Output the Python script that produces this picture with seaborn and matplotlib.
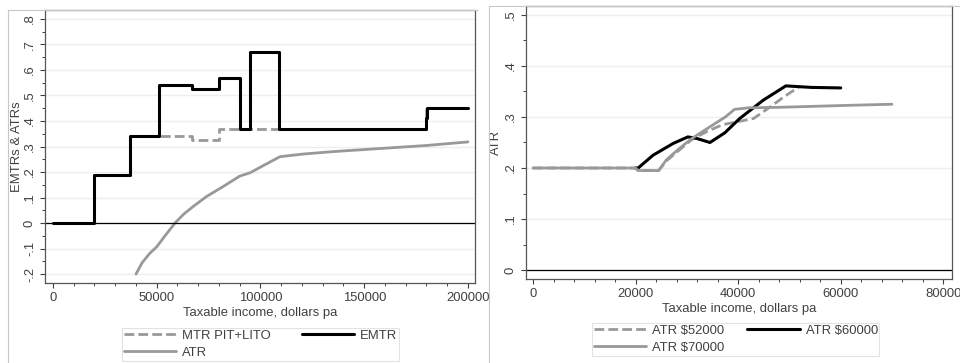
import matplotlib
matplotlib.use("Agg")
import matplotlib.pyplot as plt
import seaborn as sns
from matplotlib.lines import Line2D
from matplotlib.ticker import MultipleLocator

# Left panel: marginal rates (step series) and average rate
mtr_x = [0, 20000, 37000, 67000, 80000, 180000, 200000]
mtr_y = [0, 0.19, 0.34, 0.325, 0.37, 0.45, 0.45]

emtr_x = [0, 20000, 37000, 51000, 67000, 80000, 90000, 95000, 109000, 180000, 180500, 200000]
emtr_y = [0, 0.19, 0.34, 0.54, 0.525, 0.57, 0.37, 0.67, 0.37, 0.41, 0.45, 0.45]

atr_x = [40000, 43000, 46500, 50000, 54000, 58800, 63000, 67600, 74000, 82000,
         90000, 95000, 102000, 109400, 120000, 135000, 150000, 165000, 180000, 200000]
atr_y = [-0.2, -0.155, -0.12, -0.093, -0.05, 0.0, 0.035, 0.065, 0.104, 0.143,
         0.184, 0.197, 0.228, 0.26, 0.27, 0.28, 0.288, 0.296, 0.304, 0.318]

# Right panel: ATR paths for three incomes
atr52_x = [0, 20000, 20500, 24500, 26000, 28500, 31000, 34000, 37000, 40000, 43000, 46000, 49000, 52000]
atr52_y = [0.2, 0.2, 0.195, 0.195, 0.214, 0.235, 0.256, 0.272, 0.285, 0.291, 0.297, 0.318, 0.34, 0.36]

atr60_x = [20000, 20500, 23400, 27300, 30200, 31900, 34500, 37400, 40300, 44900, 49300, 54300, 60000]
atr60_y = [0.2, 0.2, 0.225, 0.248, 0.261, 0.258, 0.25, 0.269, 0.297, 0.333, 0.361, 0.358, 0.357]

atr70_x = [0, 20000, 20500, 24500, 26000, 28500, 31000, 35000, 37500, 39300, 42000, 48000, 55000, 62000, 70000]
atr70_y = [0.2, 0.2, 0.195, 0.195, 0.216, 0.238, 0.258, 0.284, 0.3, 0.315, 0.318, 0.319, 0.321, 0.323, 0.325]

# ticks / labels
left_xticks = [0, 50000, 100000, 150000, 200000]
left_yticks = [-0.2, -0.1, 0, 0.1, 0.2, 0.3, 0.4, 0.5, 0.6, 0.7, 0.8]
left_ylabels = ['-.2', '-.1', '0', '.1', '.2', '.3', '.4', '.5', '.6', '.7', '.8']
right_xticks = [0, 20000, 40000, 60000, 80000]
right_yticks = [0, 0.1, 0.2, 0.3, 0.4, 0.5]
right_ylabels = ['0', '.1', '.2', '.3', '.4', '.5']

sns.set_style('ticks')
plt.rcParams['font.family'] = ['Liberation Sans', 'DejaVu Sans']
plt.rcParams['font.size'] = 9.4

GRAY = '#999999'
TXT = '#404040'
DASH = (0, (3.5, 1.5))

W, H = 960, 363
fig = plt.figure(figsize=(9.6, 3.63), dpi=100)


def box(l, t, r, b):
    return [l / W, (H - b) / H, (r - l) / W, (b - t) / H]


ax1 = fig.add_axes(box(45, 10, 475, 283))
ax2 = fig.add_axes(box(526, 6, 952, 279))

# left panel
sns.lineplot(x=mtr_x, y=mtr_y, ax=ax1, color=GRAY, lw=2, linestyle=DASH,
             drawstyle='steps-post', estimator=None, sort=False)
sns.lineplot(x=emtr_x, y=emtr_y, ax=ax1, color='black', lw=2.2,
             drawstyle='steps-post', estimator=None, sort=False)
sns.lineplot(x=atr_x, y=atr_y, ax=ax1, color=GRAY, lw=2, estimator=None, sort=False)
ax1.set_xlim(-3855, 203400)
ax1.set_ylim(-0.235, 0.835)
ax1.set_xticks(left_xticks, labels=[str(v) for v in left_xticks])
ax1.set_yticks(left_yticks, labels=left_ylabels)
ax1.xaxis.set_minor_locator(MultipleLocator(10000))
ax1.yaxis.set_minor_locator(MultipleLocator(0.05))
ax1.set_ylabel('EMTRs & ATRs', color=TXT)
ax1.yaxis.set_label_coords(-0.051, 0.5)

# right panel
sns.lineplot(x=atr52_x, y=atr52_y, ax=ax2, color=GRAY, lw=2, linestyle=DASH,
             estimator=None, sort=False)
sns.lineplot(x=atr60_x, y=atr60_y, ax=ax2, color='black', lw=2.2, estimator=None, sort=False)
sns.lineplot(x=atr70_x, y=atr70_y, ax=ax2, color=GRAY, lw=2, estimator=None, sort=False)
ax2.set_xlim(-1366, 81700)
ax2.set_ylim(-0.0176, 0.5176)
ax2.set_xticks(right_xticks, labels=[str(v) for v in right_xticks])
ax2.set_yticks(right_yticks, labels=right_ylabels)
ax2.xaxis.set_minor_locator(MultipleLocator(4000))
ax2.yaxis.set_minor_locator(MultipleLocator(0.05))
ax2.set_ylabel('ATR', color=TXT)
ax2.yaxis.set_label_coords(-0.057, 0.5)

for ax in (ax1, ax2):
    ax.set_xlabel('Taxable income, dollars pa', color=TXT, labelpad=2)
    ax.grid(axis='y', which='major', color='#eeeeee', lw=1)
    ax.set_axisbelow(True)
    ax.axhline(0, color='black', lw=0.9)
    for s in ax.spines.values():
        s.set_visible(True)
        s.set_color('#555555')
        s.set_linewidth(0.9)
    ax.tick_params(which='major', length=3.5, width=0.8, color='#404040',
                   labelcolor=TXT, pad=3)
    ax.tick_params(which='minor', length=2.2, width=0.7, color='#404040')
    ax.tick_params(axis='y', labelrotation=90)
    for lab in ax.get_yticklabels():
        lab.set_va('center')

# legends
h_mtr = Line2D([], [], color=GRAY, lw=2, linestyle=DASH)
h_emtr = Line2D([], [], color='black', lw=2.2)
h_atr = Line2D([], [], color=GRAY, lw=2)
leg_kw = dict(loc='upper left', ncol=2, frameon=True, fancybox=False,
              edgecolor='#dddddd', fontsize=9.4, handlelength=4,
              handletextpad=0.45, borderpad=0.12, labelspacing=0.4,
              labelcolor=TXT, borderaxespad=0)
l1 = fig.legend([h_mtr, h_atr, h_emtr], ['MTR PIT+LITO', 'ATR', 'EMTR'],
                bbox_to_anchor=(122 / W, 1 - 328 / H), columnspacing=2.4, **leg_kw)
l1.get_frame().set_linewidth(0.8)
l2 = fig.legend([h_mtr, h_atr, h_emtr], ['ATR $52000', 'ATR $70000', 'ATR $60000'],
                bbox_to_anchor=(592 / W, 1 - 323 / H), columnspacing=1.8, **leg_kw)
l2.get_frame().set_linewidth(0.8)

# panel borders
border = dict(color='#c8c8c8', lw=0.8, transform=fig.transFigure)
fig.add_artist(Line2D([8 / W, 8 / W], [0, 1 - 10 / H], **border))
fig.add_artist(Line2D([8 / W, 478 / W], [1 - 10 / H, 1 - 10 / H], **border))
fig.add_artist(Line2D([489 / W, 489 / W], [0, 1 - 6 / H], **border))
fig.add_artist(Line2D([489 / W, 1], [1 - 6 / H, 1 - 6 / H], **border))

fig.savefig('out.png', dpi=100)
